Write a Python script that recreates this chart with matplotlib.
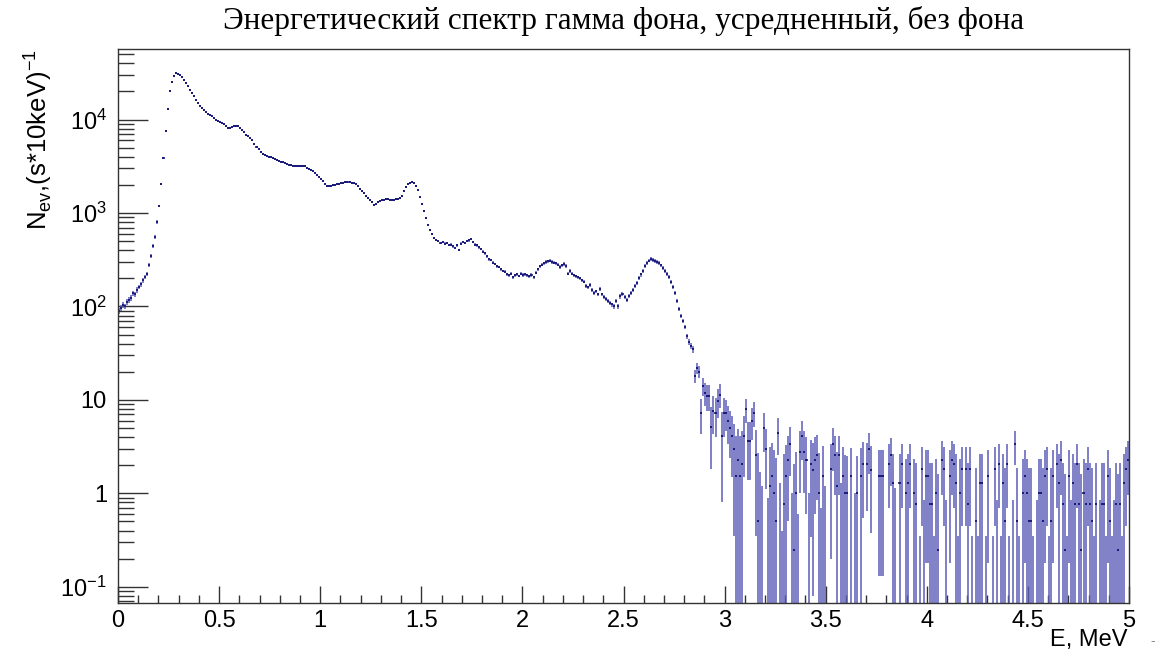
import matplotlib
matplotlib.use('Agg')
import matplotlib.pyplot as plt
import numpy as np
from matplotlib.ticker import FixedLocator, FixedFormatter, MultipleLocator

plt.rcParams['font.family'] = ['Liberation Sans', 'DejaVu Sans']
plt.rcParams['mathtext.fontset'] = 'custom'
plt.rcParams['mathtext.rm'] = 'Liberation Sans'

# averaged gamma spectrum, 10 keV bins, 0 - 5 MeV (counts per s per 10 keV)
bin_width = 0.01
counts_0_03 = [90, 97, 104, 100, 112, 118, 123, 138, 135, 150,
               160, 172, 190, 205, 225, 280, 350, 440, 560, 800,
               1200, 2050, 3900, 7600, 13000, 20000, 25500, 29500, 31500, 31000]
counts_03_1 = [30000, 28500, 26800, 24800, 22800, 21000, 19300, 17800, 16300, 15000,
               14000, 13300, 12700, 12100, 11600, 11200, 10800, 10400, 10000, 9700,
               9500, 9200, 8900, 8500, 8200, 8100, 8300, 8500, 8600, 8500,
               8100, 7700, 7300, 6900, 6600, 6300, 6000, 5500, 5100, 4800,
               4550, 4300, 4200, 4100, 4000, 3950, 3900, 3800, 3700, 3620,
               3560, 3500, 3420, 3350, 3300, 3230, 3180, 3150, 3150, 3170,
               3200, 3210, 3150, 3050, 2980, 2880, 2800, 2680, 2550, 2420]
counts_1_15 = [2300, 2190, 2060, 1970, 1940, 1960, 1980, 2010, 2040, 2070,
               2090, 2110, 2130, 2140, 2130, 2120, 2090, 2040, 1960, 1830,
               1720, 1630, 1540, 1460, 1380, 1300, 1230, 1260, 1300, 1340,
               1370, 1390, 1410, 1400, 1380, 1370, 1380, 1400, 1400, 1450,
               1520, 1720, 1920, 2050, 2110, 2140, 2080, 1950, 1750, 1500]
counts_15_2 = [1250, 1050, 880, 740, 660, 590, 545, 510, 500, 480,
               490, 470, 480, 455, 460, 440, 420, 450, 400, 470,
               490, 480, 500, 510, 525, 490, 460, 450, 430, 410,
               385, 370, 345, 320, 315, 295, 285, 270, 265, 250,
               240, 235, 220, 215, 225, 205, 215, 220, 212, 225]
counts_2_25 = [218, 222, 215, 210, 218, 205, 230, 250, 270, 280,
               290, 300, 305, 310, 300, 295, 290, 280, 265, 275,
               285, 270, 225, 240, 225, 215, 210, 205, 200, 190,
               185, 165, 160, 170, 150, 140, 145, 135, 155, 135,
               125, 120, 115, 110, 105, 100, 115, 100, 128, 135]
counts_25_3 = [125, 118, 130, 140, 150, 165, 180, 200, 220, 240,
               270, 290, 310, 320, 315, 305, 300, 290, 275, 260,
               240, 225, 205, 185, 160, 140, 115, 93, 80, 70,
               60, 48, 42, 38, 35, 18, 22, 20, 7.3, 14,
               12, 11, 11, 5.1, 7.6, 7.3, 9.7, 11.4, 4.1, 7.3]
counts_3_4 = [7.3, 6.0, 5.0, 4.1, 2.95, 1.53, 2.3, 1.53, 2.04, 4.1,
              7.9, 3.6, 3.6, 5.9, 7.3, 2.55, 0.5, -0.5, -1.0, 5.0,
              3.0, -1.0, 1.2, 1.53, 1.0, 0.5, 4.45, -0.6, -1.5, 0.76,
              1.53, 2.3, 3.35, -0.8, 0.25, 1.0, -1.2, 2.8, 4.1, 2.8,
              2.3, -0.7, 2.04, 1.78, 2.3, 2.55, 1.0, -1.0, 1.53, -0.5,
              -2.0, -2.0, 1.8, 3.35, 2.55, 1.2, 2.55, -0.3, 1.53, 1.0,
              1.0, -2.0, 1.53, -2.0, -0.5, 1.0, -2.0, 1.53, 2.04, -2.0,
              2.04, 3.0, 1.78, -2.0, -2.0, -2.0, 1.53, 1.53, 1.53, -2.0,
              -2.0, 2.04, 2.55, 1.3, -0.2, -2.0, 1.3, 2.04, -2.0, 1.0,
              1.3, 2.04, -2.0, 1.0, 0.76, -2.0, -1.0, 1.8, -0.5, 1.53]
counts_4_5 = [1.53, 0.76, 0.76, -1.0, 1.0, 0.25, -2.0, 2.3, 1.8, -0.5,
              -2.0, 1.53, 2.3, 2.04, 1.3, -1.0, 1.0, 1.8, -2.0, 1.8,
              0.76, 1.8, -1.0, -2.0, 0.5, -1.0, 1.3, 1.3, -2.0, -1.0,
              1.53, -2.0, -1.0, 1.8, -0.5, 2.04, -1.0, 1.3, 0.5, 2.04,
              -1.0, -2.0, -0.5, 3.35, 0.5, -1.0, -2.0, 1.0, 1.53, 1.0,
              0.5, 0.5, -1.0, -2.0, -0.5, 1.0, 1.0, 0.5, 1.53, 1.8,
              -1.0, 0.5, 1.53, -2.0, 2.04, 1.3, 2.3, 0.76, 0.25, -1.0,
              1.53, -0.5, 1.3, 0.76, 2.04, 0.76, 0.25, 1.0, 0.76, 1.8,
              0.76, 0.5, -1.0, 0.76, -2.0, -0.5, 0.76, 0.76, -1.0, 1.53,
              0.5, -1.0, -0.5, 0.76, 0.25, 0.76, -1.0, 1.3, 1.8, 2.3]

# error size per 0.1 MeV: relative below 2.8 MeV, absolute above
rel_err_0_28 = [0.07, 0.05, 0.01, 0.01, 0.01, 0.01, 0.01, 0.01, 0.01, 0.01,
                0.012, 0.012, 0.012, 0.012, 0.015, 0.025, 0.03, 0.03, 0.035, 0.035,
                0.04, 0.04, 0.045, 0.045, 0.05, 0.05, 0.045, 0.05]
abs_err_28_5 = [3.0, 3.3, 2.6, 2.2, 1.9, 1.8, 1.7, 1.6, 1.5, 1.4, 1.35,
                1.35, 1.35, 1.35, 1.35, 1.35, 1.35, 1.35, 1.35, 1.35, 1.35, 1.35]

yticks = [0.1, 1, 10, 100, 1000, 10000]
ytick_labels = [r'$\mathregular{10^{-1}}$', '1', '10',
                r'$\mathregular{10^{2}}$', r'$\mathregular{10^{3}}$', r'$\mathregular{10^{4}}$']

counts = np.array(counts_0_03 + counts_03_1 + counts_1_15 + counts_15_2 +
                  counts_2_25 + counts_25_3 + counts_3_4 + counts_4_5, dtype=float)
energy = (np.arange(len(counts)) + 0.5) * bin_width
err = np.concatenate([counts[:280] * np.repeat(rel_err_0_28, 10),
                      np.repeat(abs_err_28_5, 10)])

fig = plt.figure(figsize=(11.58, 6.54), dpi=100)
ax = fig.add_axes([118 / 1158, 1 - 603 / 654, (1129 - 118) / 1158, (603 - 49) / 654])
ax.set_yscale('log')
ax.set_xlim(0, 5)
ax.set_ylim(0.067, 57000)

hi = counts + err
lo = np.maximum(counts - err, 1e-4)
show = hi > 0
ax.vlines(energy[show], lo[show], hi[show], color='#5d5dba', lw=1.3, alpha=0.85)
pos = counts > 0
ax.hlines(counts[pos], energy[pos] - bin_width / 2, energy[pos] + bin_width / 2,
          color='#1c1c7c', lw=1.2)
ax.plot(energy[pos], counts[pos], 's', ms=1.7, color='#1c1c7c', mew=0)

for s in ax.spines.values():
    s.set_linewidth(1.0)
    s.set_color('#333333')

ax.yaxis.set_major_locator(FixedLocator(yticks))
ax.yaxis.set_major_formatter(FixedFormatter(ytick_labels))
minor = [m * 10.0 ** d for d in range(-2, 5) for m in range(2, 10)]
ax.yaxis.set_minor_locator(FixedLocator(minor))
ax.xaxis.set_major_locator(MultipleLocator(0.5))
ax.xaxis.set_minor_locator(MultipleLocator(0.1))
ax.xaxis.set_major_formatter(plt.FuncFormatter(lambda v, p: '%g' % v))
ax.tick_params(axis='y', which='major', direction='in', length=21.5, width=1.0,
               labelsize=17, pad=8, color='#333333', left=True, right=False)
ax.tick_params(axis='y', which='minor', direction='in', length=11.5, width=1.0,
               color='#333333', left=True, right=False)
ax.tick_params(axis='x', which='major', direction='in', length=12, width=1.0,
               labelsize=17, pad=5, color='#333333', top=False)
ax.tick_params(axis='x', which='minor', direction='in', length=6, width=1.0,
               color='#333333', top=False)

fig.text(0.5385, 1 - 21 / 654, 'Энергетический спектр гамма фона, усредненный, без фона',
         ha='center', va='center', fontsize=22.5, family='Liberation Serif')
fig.text(38 / 1158, 1 - 49 / 654, r'N$_{\mathregular{ev}}$,(s*10keV)$^{\mathregular{-1}}$',
         rotation=90, ha='center', va='top', fontsize=18.5)
fig.text(1128 / 1158, 1 - 640 / 654, 'E, MeV', ha='right', va='center', fontsize=17)
fig.text(1153 / 1158, 1 - 641 / 654, '-', ha='center', va='center', fontsize=10, color='#888888')

plt.savefig('out.png', dpi=100)
plt.close()
